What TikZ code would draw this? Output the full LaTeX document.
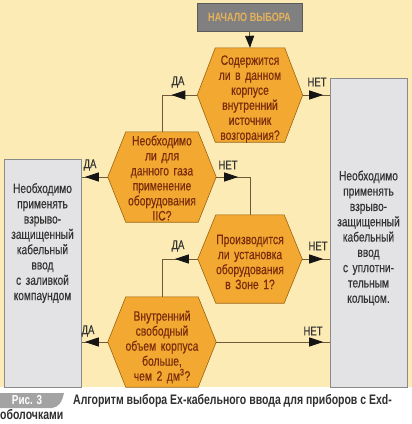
\documentclass[tikz,border=0pt]{standalone}
\usepackage{fontspec}
\setmainfont{Liberation Sans}[FakeStretch=0.76]
\newfontfamily\medfont{Liberation Sans}[FakeStretch=0.76, FakeBold=0.35]
\usetikzlibrary{arrows.meta,decorations.markings}
\pgfdeclarelayer{background}
\pgfsetlayers{background,main}
\definecolor{bgyellow}{HTML}{FCEBB5}
\definecolor{hexfill}{HTML}{F2A831}
\definecolor{hexdraw}{HTML}{9A6410}
\definecolor{hextext}{HTML}{7A2C0C}
\definecolor{boxfill}{HTML}{E3E3E5}
\definecolor{boxdraw}{HTML}{8A8A8A}
\definecolor{startfill}{HTML}{808080}
\definecolor{startdraw}{HTML}{5A5A5A}
\definecolor{starttext}{HTML}{E6B25C}
\definecolor{linec}{HTML}{6E5A3A}
\definecolor{arrowc}{HTML}{151515}
\definecolor{labelc}{HTML}{333333}
\definecolor{captc}{HTML}{2F2F2F}
\definecolor{tabgray}{HTML}{A3A3A3}
\newcommand\hexfont{\medfont\fontsize{13.6}{15}\selectfont}
\newcommand\boxfont{\medfont\fontsize{13.4}{15.3}\selectfont}
\newcommand\hexpath[1]{\filldraw[hexshape] (#1.west) -- ([xshift=18pt]#1.north west) -- ([xshift=-18pt]#1.north east) -- (#1.east) -- ([xshift=-18pt]#1.south east) -- ([xshift=18pt]#1.south west) -- cycle;}
\tikzset{
  hexnode/.style={inner sep=0pt},
  hextxt/.style={inner sep=0pt, text width=100pt, align=center, font=\hexfont, text=hextext},
  hexshape/.style={fill=hexfill, draw=hexdraw, line width=0.6pt},
  boxnode/.style={fill=boxfill, draw=boxdraw, line width=1pt, inner sep=0pt},
  boxtext/.style={inner sep=0pt, text width=76pt, align=center, font=\boxfont, text=labelc},
  lbl/.style={inner sep=0pt, font=\medfont\fontsize{12.5}{14}\selectfont, text=labelc},
  conn/.style={draw=linec, line width=0.8pt},
  midarrow/.style={postaction={decorate, decoration={markings, mark=at position #1 with {\arrow{Triangle[length=14pt,width=9pt,color=arrowc]}}}}}
}
\begin{document}
\begin{tikzpicture}[x=1pt,y=-1pt]
\useasboundingbox (0,0) rectangle (412,424);
% start box
\node[fill=startfill, draw=startdraw, line width=1pt, minimum width=105pt, minimum height=28pt, inner sep=0pt, text=starttext, font=\bfseries\fontsize{12}{13}\selectfont] (start) at (249.5,17) {НАЧАЛО ВЫБОРА};
% hexagons
\node[hexnode, minimum width=105pt, minimum height=94pt] (h1) at (250,95) {};
\node[hextxt] (h1t) at ([yshift=-4pt]h1.center) {Содержится\\ли в данном\\корпусе\\внутренний\\источник\\возгорания?};
\node[hexnode, minimum width=108pt, minimum height=90pt] (h2) at (162,177) {};
\node[hextxt] (h2t) at ([yshift=-1pt]h2.center) {Необходимо\\ли для\\данного газа\\применение\\оборудования\\IIC?};
\node[hexnode, minimum width=104pt, minimum height=88pt] (h3) at (250,259) {};
\node[hextxt] (h3t) at ([yshift=-3pt]h3.center) {Производится\\ли установка\\оборудования\\в Зоне 1?};
\node[hexnode, minimum width=108pt, minimum height=90pt] (h4) at (162,342) {};
\node[hextxt] (h4t) at ([yshift=-5pt]h4.center) {Внутренний\\свободный\\объем корпуса\\больше,\\чем 2 дм\textsuperscript{3}?};
% boxes
\node[boxnode, minimum width=77pt, minimum height=228pt] (lb) at (42.5,273) {};
\node[boxtext] (lbt) at (42.5,243) {Необходимо\\применять\\взрыво-\\защищенный\\кабельный\\ввод\\с заливкой\\компаундом};
\node[boxnode, minimum width=77pt, minimum height=309pt] (rb) at (368.5,232.5) {};
\node[boxtext] (rbt) at (368.5,238) {Необходимо\\применять\\взрыво-\\защищенный\\кабельный\\ввод\\с уплотни-\\тельным\\кольцом.};
\begin{pgfonlayer}{background}
\fill[bgyellow] (0,0) rectangle (412,387);
\foreach \n in {h1,h2,h3,h4} {\hexpath{\n}}
\end{pgfonlayer}
% connectors
\draw[conn, -{Triangle[length=12pt,width=9pt,color=arrowc]}] (start.south) -- (h1.north);
\draw[conn, midarrow=26pt] (h1.west) -| (h2.north);
\draw[conn, midarrow=20.5pt] (h1.east) -- (h1.east -| rb.west);
\draw[conn, midarrow=23pt] (h2.west) -- (h2.west -| lb.east);
\draw[conn, midarrow=22pt] (h2.east) -| (h3.north);
\draw[conn, midarrow=21pt] (h3.east) -- (h3.east -| rb.west);
\draw[conn, midarrow=23pt] (h3.west) -| (h4.north);
\draw[conn, midarrow=23pt] (h4.west) -- (h4.west -| lb.east);
\draw[conn, midarrow=107pt] (h4.east) -- (h4.east -| rb.west);
% labels
\node[lbl] (l1) at (178,82) {ДА};
\node[lbl] (l2) at (317,82) {НЕТ};
\node[lbl] (l3) at (90,165) {ДА};
\node[lbl] (l4) at (228,165) {НЕТ};
\node[lbl] (l5) at (178,246) {ДА};
\node[lbl] (l6) at (318,246) {НЕТ};
\node[lbl] (l7) at (88,331) {ДА};
\node[lbl] (l8) at (313,331) {НЕТ};
% caption
\fill[tabgray] (0,393) -- (64,393) .. controls (62,402) and (59,407) .. (52,408) -- (0,408) -- cycle;
\node[inner sep=0pt, text=white, font=\bfseries\fontsize{13}{14}\selectfont] (tab) at (27,400.5) {Рис. 3};
\node[inner sep=0pt, anchor=base west, text=captc, font=\bfseries\fontsize{13.8}{15}\selectfont] (cap1) at (73,404) {Алгоритм выбора Ex-кабельного ввода для приборов с Exd-};
\node[inner sep=0pt, anchor=base west, text=captc, font=\bfseries\fontsize{13.8}{15}\selectfont] (cap2) at (0,419) {оболочками};
\end{tikzpicture}
\end{document}
